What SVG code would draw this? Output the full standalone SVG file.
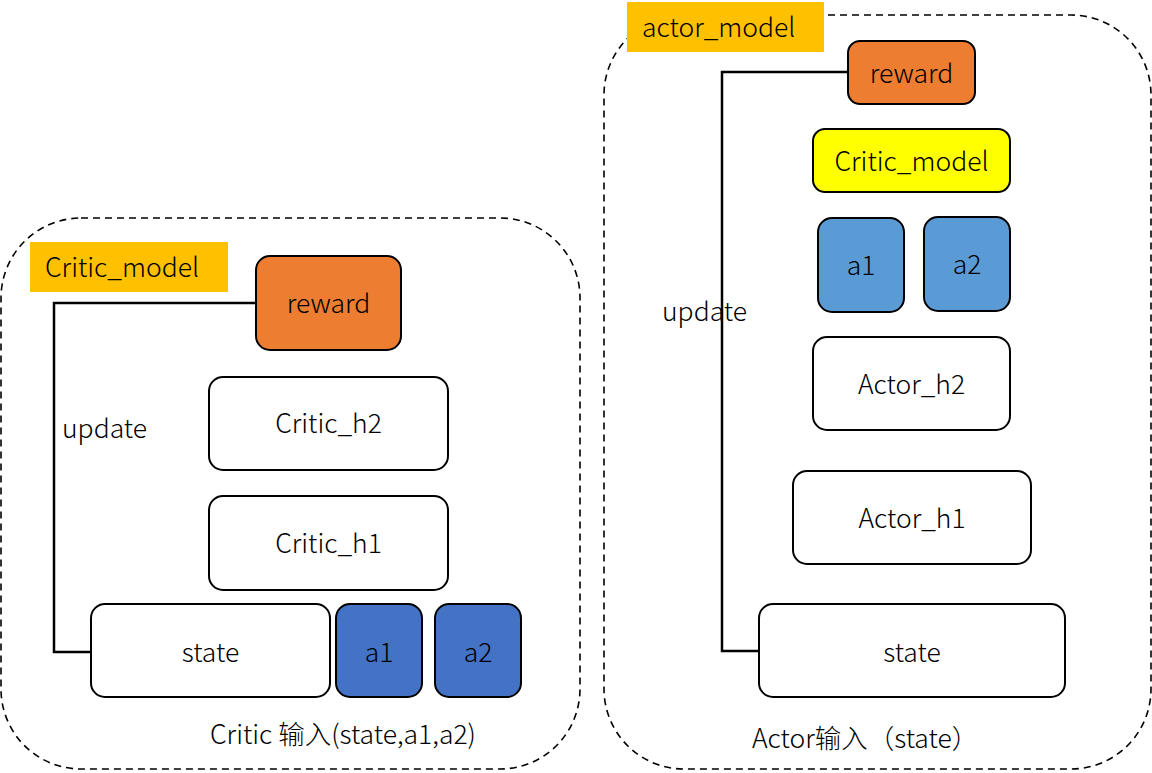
<svg xmlns="http://www.w3.org/2000/svg" width="1152" height="773" viewBox="0 0 1152 773">
<style>
text{font-family:"Noto Sans CJK SC","Noto Sans",sans-serif;font-size:26.5px;font-weight:300;fill:#000}
.c{text-anchor:middle;dominant-baseline:central}
.box{stroke:#000;stroke-width:2}
.cont{fill:none;stroke:#000;stroke-width:1.6;stroke-dasharray:7 5}
.conn{fill:none;stroke:#000;stroke-width:2.5}
</style>
<rect width="1152" height="773" fill="#fff"/>
<g id="critic_container"><rect class="cont" x="1" y="218" width="579" height="551" rx="80"/></g>
<g id="actor_container"><rect class="cont" x="604" y="15" width="547" height="754" rx="80"/></g>
<g id="connectors">
<polyline class="conn" points="256,303 54,303 54,652 91,652"/>
<polyline class="conn" points="848,72 722,72 722,651 759,651"/>
</g>
<g id="critic_model_label"><rect x="30" y="242" width="198" height="50" fill="#FFC000"/><text x="45" y="265" dominant-baseline="central">Critic_model</text></g>
<g id="critic_reward"><rect class="box" x="256" y="256" width="145" height="94" rx="14" fill="#ED7D31"/><text class="c" x="328.5" y="301">reward</text></g>
<g id="critic_h2"><rect class="box" x="209" y="377" width="239" height="93" rx="14" fill="#fff"/><text class="c" x="328.5" y="421.5">Critic_h2</text></g>
<g id="critic_h1"><rect class="box" x="209" y="496" width="239" height="94" rx="14" fill="#fff"/><text class="c" x="328.5" y="541">Critic_h1</text></g>
<g id="critic_state"><rect class="box" x="91" y="604" width="239" height="93" rx="14" fill="#fff"/><text class="c" x="210.5" y="650">state</text></g>
<g id="critic_a1"><rect class="box" x="336" y="604" width="86" height="93" rx="14" fill="#4472C4"/><text class="c" x="379" y="650">a1</text></g>
<g id="critic_a2"><rect class="box" x="435" y="604" width="86" height="93" rx="14" fill="#4472C4"/><text class="c" x="478" y="650">a2</text></g>
<g id="critic_update"><text x="62" y="426" dominant-baseline="central">update</text></g>
<g id="critic_input"><text x="210" y="732" dominant-baseline="central">Critic 输入(state,a1,a2)</text></g>

<g id="actor_model_label"><rect x="627" y="2" width="197" height="50" fill="#FFC000"/><text x="642" y="25" dominant-baseline="central">actor_model</text></g>
<g id="actor_reward"><rect class="box" x="848" y="41" width="127" height="63" rx="12" fill="#ED7D31"/><text class="c" x="911.5" y="71">reward</text></g>
<g id="actor_critic_model"><rect class="box" x="813" y="129" width="197" height="63" rx="12" fill="#FFFF00"/><text class="c" x="911.5" y="159">Critic_model</text></g>
<g id="actor_a1"><rect class="box" x="818" y="218" width="86" height="94" rx="14" fill="#5B9BD5"/><text class="c" x="861" y="263">a1</text></g>
<g id="actor_a2"><rect class="box" x="924" y="217" width="86" height="94" rx="14" fill="#5B9BD5"/><text class="c" x="967" y="262">a2</text></g>
<g id="actor_h2"><rect class="box" x="813" y="337" width="197" height="93" rx="14" fill="#fff"/><text class="c" x="911.5" y="382">Actor_h2</text></g>
<g id="actor_h1"><rect class="box" x="793" y="471" width="238" height="93" rx="14" fill="#fff"/><text class="c" x="912" y="516">Actor_h1</text></g>
<g id="actor_state"><rect class="box" x="759" y="604" width="306" height="93" rx="14" fill="#fff"/><text class="c" x="912" y="650">state</text></g>
<g id="actor_update"><text x="662" y="309" dominant-baseline="central">update</text></g>
<g id="actor_input"><text x="752" y="736" dominant-baseline="central">Actor输入（state）</text></g>
</svg>
